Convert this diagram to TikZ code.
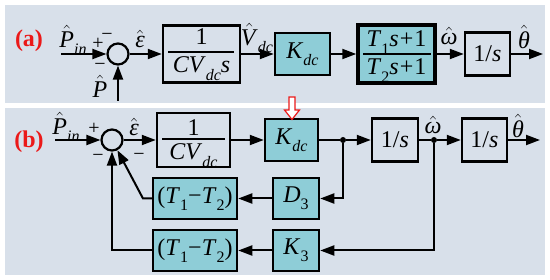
\documentclass[tikz,border=0pt]{standalone}
\usepackage{fontspec}
\setmainfont{Liberation Serif}
\usepackage{amsmath}
\usetikzlibrary{arrows.meta}
\definecolor{panel}{RGB}{216,224,234}
\definecolor{tealf}{RGB}{142,205,215}
\definecolor{redl}{RGB}{235,25,25}
\newcommand\sub[1]{\raisebox{-0.3em}{\fontsize{16}{16}\selectfont\itshape #1}}
\newcommand\subr[1]{\raisebox{-0.3em}{\fontsize{16}{16}\selectfont #1}}
\newcommand\hatt[1]{\ensuremath{\hat{\text{#1}}}}
\begin{document}
\begin{tikzpicture}[x=1pt,y=-1pt,
  font=\fontsize{24}{26}\selectfont,
  blk/.style={draw=black, line width=2.5pt, inner sep=0pt},
  gbox/.style={blk, fill=panel},
  tbox/.style={blk, fill=tealf},
  sumc/.style={circle, draw=black, line width=2.2pt, minimum size=21pt, inner sep=0pt},
  jdot/.style={circle, fill=black, minimum size=6pt, inner sep=0pt},
  arr/.style={line width=2pt, -{Triangle[length=14pt,width=10pt]}},
  ln/.style={line width=2pt},
  sgn/.style={font=\fontsize{20}{20}\selectfont, inner sep=0pt},
  lbl/.style={inner sep=0pt},
  redlbl/.style={text=redl, font=\fontsize{24}{26}\selectfont\bfseries, inner sep=0pt},
  bar/.style={line width=1.3pt}
]
\useasboundingbox (0,0) rectangle (550,280);
\fill[white] (0,0) rectangle (550,280);
\fill[panel] (5,5) rectangle (545,103);
\fill[panel] (5,108) rectangle (545,275);

% ---------- panel (a)
\node[redlbl] (la) at (29,41) {(a)};
\node[sumc] (SA) at (118,54) {};
\coordinate (ainL) at (61,54);
\coordinate (ainB) at (118,101);
\node[gbox, minimum width=77pt, minimum height=57pt] (A1) at (201.5,54) {};
\node[tbox, minimum width=55pt, minimum height=42pt] (A2) at (302.5,54) {\textit{K}\sub{dc}};
\node[tbox, line width=3.5pt, minimum width=77pt, minimum height=58pt] (A3) at (396.5,54) {};
\node[gbox, minimum width=45pt, minimum height=43pt] (A4) at (487.5,54) {1/\textit{s}};
\coordinate (aout) at (543,54);

\node[anchor=base, lbl] (A1n) at (201.5,45) {1};
\draw[bar] (168,52) -- (234,52);
\node[anchor=base, lbl] (A1d) at (201.5,73) {\textit{CV}\sub{dc}\textit{s}};
\node[anchor=base, lbl] (A3n) at (396.5,47) {\textit{T}\subr{1}\textit{s}\kern1pt+\kern1pt1};
\draw[bar] (363,54) -- (431,54);
\node[anchor=base, lbl] (A3d) at (396.5,75) {\textit{T}\subr{2}\textit{s}\kern1pt+\kern1pt1};

\draw[arr] (ainL) -- (SA);
\draw[arr] (ainB) -- (SA);
\draw[arr] (SA) -- (A1);
\draw[arr] (A1) -- (A2);
\draw[arr] (A2) -- (A3);
\draw[arr] (A3) -- (A4);
\draw[arr] (A4) -- (aout);

\node[lbl] (tPa) at (73,40) {\hatt{\textit{P}}\sub{in}};
\node[sgn] (sa1) at (98,44) {+};
\node[sgn] (sa2) at (107,37) {−};
\node[sgn] (sa3) at (100,67) {−};
\node[lbl] (tPb) at (100,86) {\hatt{\textit{P}}};
\node[lbl] (tEa) at (140,39) {\hatt{\textit{ε}}};
\node[lbl] (tVa) at (257,38) {\hatt{\textit{V}}\sub{dc}};
\node[lbl] (tWa) at (449,36) {\hatt{\textit{ω}}};
\node[lbl] (tTa) at (524,37) {\hatt{\textit{θ}}};

% ---------- panel (b)
\node[redlbl] (lb) at (29,142) {(b)};
\node[sumc] (SB) at (112,140) {};
\coordinate (bin) at (55,140);
\node[gbox, minimum width=73pt, minimum height=54pt] (B1) at (193.5,140) {};
\node[tbox, minimum width=53pt, minimum height=42pt] (B2) at (291.5,140) {\textit{K}\sub{dc}};
\node[jdot] (d1) at (343,140) {};
\node[gbox, minimum width=46pt, minimum height=43pt] (B3) at (395,140) {1/\textit{s}};
\node[jdot] (d2) at (434,140) {};
\node[gbox, minimum width=45pt, minimum height=43pt] (B4) at (484.5,140) {1/\textit{s}};
\coordinate (bout) at (540,140);
\node[tbox, minimum width=46pt, minimum height=41pt] (D3) at (296,198.5) {\textit{D}\subr{3}};
\node[tbox, minimum width=46pt, minimum height=41pt] (K3) at (296,250.5) {\textit{K}\subr{3}};
\node[tbox, minimum width=84pt, minimum height=41pt] (TU) at (195,198.5) {(\textit{T}\subr{1}−\textit{T}\subr{2})};
\node[tbox, minimum width=84pt, minimum height=41pt] (TL) at (195,250.5) {(\textit{T}\subr{1}−\textit{T}\subr{2})};
\coordinate (bend) at (143,198.5);

\node[anchor=base, lbl] (B1n) at (193.5,136) {1};
\draw[bar] (162,139) -- (225,139);
\node[anchor=base, lbl] (B1d) at (193.5,160) {\textit{CV}\sub{dc}};

\draw[arr] (bin) -- (SB);
\draw[arr] (SB) -- (B1);
\draw[arr] (B1) -- (B2);
\draw[ln] (B2) -- (d1);
\draw[arr] (d1) -- (B3);
\draw[ln] (B3) -- (d2);
\draw[arr] (d2) -- (B4);
\draw[arr] (B4) -- (bout);
\draw[arr] (d1) |- (D3);
\draw[arr] (d2) |- (K3);
\draw[arr] (D3) -- (TU);
\draw[arr] (K3) -- (TL);
\draw[arr] (TU.west) -- (bend) -- (SB);
\draw[arr] (TL.west) -| (SB);

\node[lbl] (tPc) at (66,127) {\hatt{\textit{P}}\sub{in}};
\node[sgn] (sb1) at (94,129) {+};
\node[sgn] (sb2) at (98,158) {−};
\node[sgn] (sb3) at (139,157) {−};
\node[lbl] (tEb) at (134,127) {\hatt{\textit{ε}}};
\node[lbl] (tWb) at (433,125) {\hatt{\textit{ω}}};
\node[lbl] (tTb) at (518,126) {\hatt{\textit{θ}}};

% red hollow arrow
\draw[redl, line width=1.2pt, fill=white, line join=miter]
  (289,97) -- (295,97) -- (295,110) -- (299.5,110) -- (292,119.5) -- (284.5,110) -- (289,110) -- cycle;
\end{tikzpicture}
\end{document}
